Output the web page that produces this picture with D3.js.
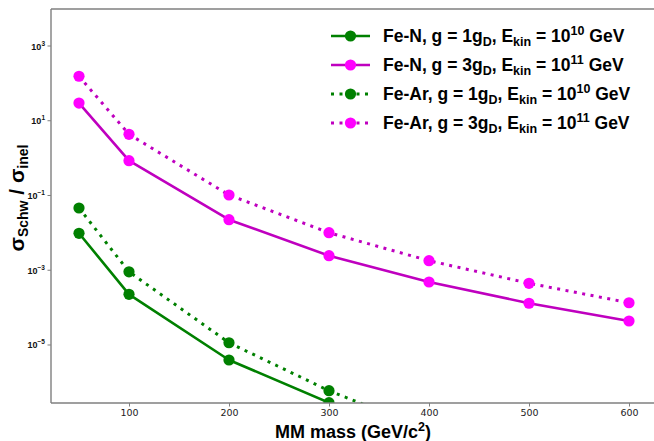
<!DOCTYPE html>
<html><head><meta charset="utf-8">
<script src="https://cdn.jsdelivr.net/npm/d3@7"></script>
<style>
html,body{margin:0;padding:0;background:#fff;}
svg{display:block;font-family:"Liberation Sans",Arial,Helvetica,sans-serif;}
</style></head>
<body><svg id="c" width="654" height="441"></svg>
<script>
// ---- data ----
const masses = [50, 100, 200, 300, 400, 500, 600];
const feN_1gD  = [9.75e-3, 2.27e-4, 3.97e-6, 2.86e-7, 1.5e-8];
const feN_3gD  = [29.8, 0.853, 0.0225, 2.45e-3, 4.85e-4, 1.31e-4, 4.39e-5];
const feAr_1gD = [0.0463, 9.1e-4, 1.15e-5, 5.98e-7, 5.2e-8];
const feAr_3gD = [155, 4.34, 0.103, 0.0101, 1.8e-3, 4.48e-4, 1.35e-4];
const xTicks = [100, 200, 300, 400, 500, 600];
const yTickExps = [3, 1, -1, -3, -5];
const seriesNames = ["Fe-N", "Fe-N", "Fe-Ar", "Fe-Ar"];
const couplings = ["1", "3", "1", "3"];
const energyExps = ["10", "11", "10", "11"];

const series = [
  {vals: feN_1gD,  line: "#008000", fill: "#008000", dotted: false},
  {vals: feN_3gD,  line: "#bf00bf", fill: "#ff00ff", dotted: false},
  {vals: feAr_1gD, line: "#008000", fill: "#008000", dotted: true},
  {vals: feAr_3gD, line: "#bf00bf", fill: "#ff00ff", dotted: true}
];

const svg = d3.select("#c");
const L = 51, T = 9, B = 403, R = 669;
const x = d3.scaleLinear().domain([22, 640]).range([L, R]);
const y = d3.scaleLog().domain([Math.pow(10, -6.552), Math.pow(10, 3.99)]).range([B, T]);

svg.append("defs").append("clipPath").attr("id", "clip")
  .append("rect").attr("x", L).attr("y", T).attr("width", R - L).attr("height", B - T);

const g = svg.append("g").attr("clip-path", "url(#clip)");
const lineGen = d3.line().x(d => x(d[0])).y(d => y(d[1]));

series.forEach(s => {
  const pts = s.vals.map((v, i) => [masses[i], v]);
  g.append("path").datum(pts).attr("d", lineGen)
    .attr("fill", "none").attr("stroke", s.line)
    .attr("stroke-width", s.dotted ? 3 : 2.6)
    .attr("stroke-dasharray", s.dotted ? "3,5.5" : null)
    .attr("stroke-linejoin", "round");
  g.selectAll(null).data(pts).enter().append("circle")
    .attr("cx", d => x(d[0])).attr("cy", d => y(d[1])).attr("r", 5.6)
    .attr("fill", s.fill);
});

// spines
const spine = "#7f7f7f";
svg.append("line").attr("x1", L).attr("x2", L).attr("y1", T).attr("y2", B).attr("stroke", spine).attr("stroke-width", 1.4);
svg.append("line").attr("x1", L).attr("x2", R).attr("y1", B).attr("y2", B).attr("stroke", spine).attr("stroke-width", 1.4);
svg.append("line").attr("x1", L).attr("x2", R).attr("y1", T).attr("y2", T).attr("stroke", spine).attr("stroke-width", 1.4);

// x axis
const xa = svg.append("g").attr("transform", `translate(0,${B})`)
  .call(d3.axisBottom(x).tickValues(xTicks).tickSize(3.5).tickPadding(3).tickFormat(d3.format("d")));
xa.select(".domain").remove();
xa.selectAll("line").attr("stroke", spine);
xa.selectAll("text").attr("font-size", 9.5).attr("fill", "#222").attr("font-family", "DejaVu Sans");

// y axis
yTickExps.forEach(e => {
  const yy = y(Math.pow(10, e));
  svg.append("line").attr("x1", L - 3.5).attr("x2", L).attr("y1", yy).attr("y2", yy).attr("stroke", spine);
  const t = svg.append("text").attr("x", L - 6).attr("y", yy + 3.5).attr("text-anchor", "end")
    .attr("font-size", 9).attr("font-weight", "bold").attr("fill", "#111");
  t.append("tspan").text("10");
  t.append("tspan").attr("dy", -4).attr("font-size", 6.5).text(String(e).replace("-", "\u2212"));
});

// axis labels
const xl = svg.append("text").attr("x", 353).attr("y", 438).attr("text-anchor", "middle")
  .attr("font-size", 18).attr("font-weight", "bold").attr("fill", "#000");
xl.append("tspan").text("MM mass (GeV/c");
xl.append("tspan").attr("dy", -7).attr("font-size", 12.5).text("2");
xl.append("tspan").attr("dy", 7).text(")");

const yl = svg.append("text").attr("transform", "translate(24,198) rotate(-90)").attr("text-anchor", "middle")
  .attr("font-size", 21).attr("font-weight", "bold").attr("fill", "#000");
yl.append("tspan").text("\u03c3");
yl.append("tspan").attr("dy", 4).attr("font-size", 14).text("Schw");
yl.append("tspan").attr("dy", -4).text(" / \u03c3");
yl.append("tspan").attr("dy", 4).attr("font-size", 14).text("inel");

// legend
const legY = [36, 65, 94, 123];
series.forEach((s, i) => {
  const ly = legY[i];
  svg.append("line").attr("x1", 331).attr("x2", 370).attr("y1", ly).attr("y2", ly)
    .attr("stroke", s.line).attr("stroke-width", s.dotted ? 3 : 2.6)
    .attr("stroke-dasharray", s.dotted ? "3,5.5" : null);
  svg.append("circle").attr("cx", 350.5).attr("cy", ly).attr("r", 5.6).attr("fill", s.fill);
  const t = svg.append("text").attr("x", 383).attr("y", ly + 6)
    .attr("font-size", 17.5).attr("font-weight", "bold").attr("fill", "#000");
  t.append("tspan").text(`${seriesNames[i]}, g = ${couplings[i]}g`);
  t.append("tspan").attr("dy", 4).attr("font-size", 12.5).text("D");
  t.append("tspan").attr("dy", -4).text(", E");
  t.append("tspan").attr("dy", 4).attr("font-size", 12.5).text("kin");
  t.append("tspan").attr("dy", -4).text(" = 10");
  t.append("tspan").attr("dy", -7).attr("font-size", 12.5).text(energyExps[i]);
  t.append("tspan").attr("dy", 7).text(" GeV");
});
</script></body></html>
